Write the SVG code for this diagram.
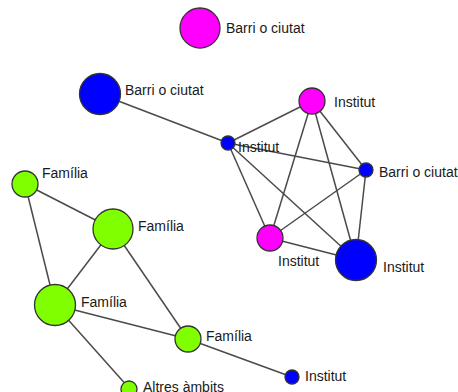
<svg xmlns="http://www.w3.org/2000/svg" width="458" height="392" viewBox="0 0 458 392">
<style>
.e{stroke:#4a4a4a;stroke-width:1.5;fill:none}
.n{stroke:#333;stroke-width:1.3}
.m{fill:#ff00ff}.b{fill:#0000ff}.g{fill:#80ff00}
text{font-family:"Liberation Sans",Arial,sans-serif;font-size:14px;fill:#1a1a1a}
</style>
<rect width="458" height="392" fill="#fff"/>
<g id="connectors">
<line class="e" x1="100" y1="94" x2="228" y2="143"/>
<line class="e" x1="228" y1="143" x2="312" y2="101"/>
<line class="e" x1="228" y1="143" x2="366" y2="170"/>
<line class="e" x1="228" y1="143" x2="270" y2="238"/>
<line class="e" x1="228" y1="143" x2="356" y2="260"/>
<line class="e" x1="312" y1="101" x2="270" y2="238"/>
<line class="e" x1="312" y1="101" x2="356" y2="260"/>
<line class="e" x1="312" y1="101" x2="366" y2="170"/>
<line class="e" x1="366" y1="170" x2="270" y2="238"/>
<line class="e" x1="366" y1="170" x2="356" y2="260"/>
<line class="e" x1="270" y1="238" x2="356" y2="260"/>
<line class="e" x1="25" y1="184" x2="113" y2="229"/>
<line class="e" x1="25" y1="184" x2="55" y2="305"/>
<line class="e" x1="113" y1="229" x2="55" y2="305"/>
<line class="e" x1="113" y1="229" x2="188" y2="339"/>
<line class="e" x1="55" y1="305" x2="188" y2="339"/>
<line class="e" x1="55" y1="305" x2="129" y2="388"/>
<line class="e" x1="188" y1="339" x2="292" y2="377"/>
</g>
<g id="n1"><circle class="n m" cx="200" cy="28" r="20"/><text x="226" y="33">Barri o ciutat</text></g>
<g id="n2"><circle class="n b" cx="100" cy="94" r="20.5"/><text x="125" y="95">Barri o ciutat</text></g>
<g id="n3"><circle class="n b" cx="228" cy="143" r="7"/><text x="238" y="152">Institut</text></g>
<g id="n4"><circle class="n m" cx="312" cy="101" r="13"/><text x="334" y="107">Institut</text></g>
<g id="n5"><circle class="n b" cx="366" cy="170" r="7"/><text x="379" y="177">Barri o ciutat</text></g>
<g id="n6"><circle class="n m" cx="270" cy="238" r="13"/><text x="278" y="266">Institut</text></g>
<g id="n7"><circle class="n b" cx="356" cy="260" r="20.5"/><text x="383" y="272">Institut</text></g>
<g id="n8"><circle class="n g" cx="25" cy="184" r="13"/><text x="42" y="178">Família</text></g>
<g id="n9"><circle class="n g" cx="113" cy="229" r="20"/><text x="138" y="231">Família</text></g>
<g id="n10"><circle class="n g" cx="55" cy="305" r="20.5"/><text x="81" y="307">Família</text></g>
<g id="n11"><circle class="n g" cx="188" cy="339" r="13"/><text x="206" y="341">Família</text></g>
<g id="n12"><circle class="n b" cx="292" cy="377" r="7"/><text x="305" y="381">Institut</text></g>
<g id="n13"><circle class="n g" cx="129" cy="389" r="8"/><text x="143" y="392">Altres àmbits</text></g>
</svg>
